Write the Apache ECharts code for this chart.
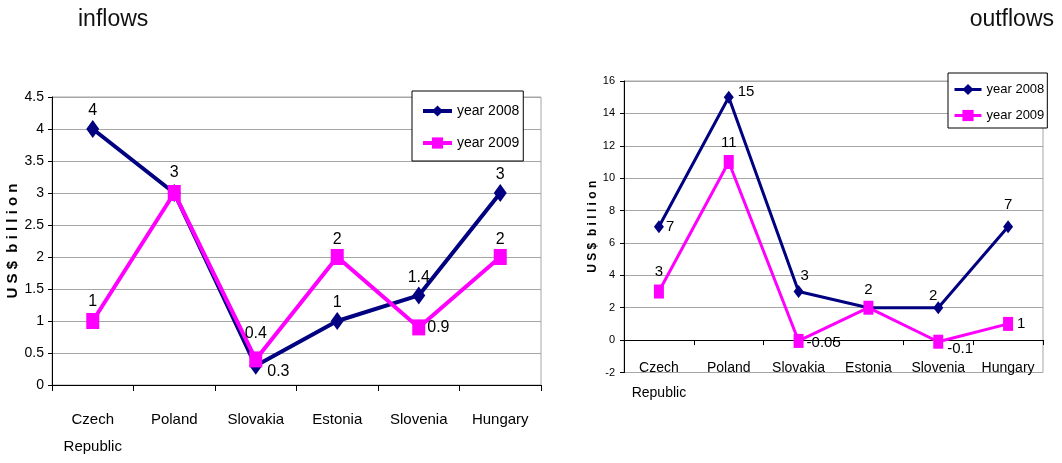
<!DOCTYPE html>
<html><head><meta charset="utf-8">
<script src="https://cdn.jsdelivr.net/npm/echarts@6/dist/echarts.min.js"></script>
<style>html,body{margin:0;padding:0;background:#fff}#c{width:1062px;height:463px}</style>
</head><body><div id="c"></div>
<script>
// ---- data ----
const categories = ['Czech\nRepublic', 'Poland', 'Slovakia', 'Estonia', 'Slovenia', 'Hungary'];
const seriesNames = ['year 2008', 'year 2009'];
const inflow2008 = [4, 3, 0.3, 1, 1.4, 3];
const inflow2009 = [1, 3, 0.4, 2, 0.9, 2];
const outflow2008 = [7, 15, 3, 2, 2, 7];
const outflow2009 = [3, 11, -0.05, 2, -0.1, 1];
const titles = ['inflows', 'outflows'];
const yName = 'U S $  b i l l i o n';

// ---- styling ----
const F = '"Liberation Sans",Arial,sans-serif';
const NAVY = '#000080', MAG = '#ff00ff', GRID = '#a6a6a6';

// label placement per point (style only)
const lblIn08 = [
  {position: 'top', distance: 1}, {show: false}, {position: 'right', distance: 5, offset: [0, 6]},
  {position: 'top', distance: 1}, {position: 'top', distance: 1}, {position: 'top', distance: 1}
];
const lblIn09 = [
  {position: 'top', distance: 3}, {position: 'top', distance: 4}, {position: 'top', distance: 10},
  {position: 'top', distance: 1}, {position: 'right', distance: 2}, {position: 'top', distance: 1}
];
const lblOut08 = [
  {position: 'right', distance: 2}, {position: 'right', distance: 4, offset: [0, -5]}, {position: 'top', distance: 2, offset: [6, 0]},
  {position: 'top', distance: 4}, {position: 'top', distance: -2, offset: [-5, 0]}, {position: 'top', distance: 8}
];
const lblOut09 = [
  {position: 'top', distance: 5}, {position: 'top', distance: 5}, {position: 'right', distance: 3, offset: [0, 2]},
  {show: false}, {position: 'right', distance: 4, offset: [0, 7]}, {position: 'right', distance: 4}
];

function mk(values, lbls) {
  return values.map((v, i) => ({value: v, label: Object.assign({show: true}, lbls[i])}));
}

const labelBase = (size) => ({show: true, color: '#000', fontFamily: F, fontSize: size});

const chart = echarts.init(document.getElementById('c'), null, {renderer: 'canvas'});
chart.setOption({
  animation: false,
  backgroundColor: '#fff',
  title: [
    {text: titles[0], left: 73, top: 3, textStyle: {fontFamily: F, fontSize: 23, fontWeight: 'normal', color: '#111'}},
    {text: titles[1], right: 3, top: 3, textStyle: {fontFamily: F, fontSize: 23, fontWeight: 'normal', color: '#111'}}
  ],
  legend: [
    {
      data: seriesNames, orient: 'vertical', left: 412, top: 91,
      padding: [13, 4, 11, 9], itemGap: 18, itemWidth: 29, itemHeight: 14,
      borderColor: '#000', borderWidth: 1, backgroundColor: '#fff',
      textStyle: {fontFamily: F, fontSize: 14, color: '#000'},
      lineStyle: {width: 4}
    },
    {
      data: seriesNames, orient: 'vertical', left: 948, top: 73,
      padding: [10, 3, 6, 5], itemGap: 13, itemWidth: 27, itemHeight: 14,
      borderColor: '#000', borderWidth: 1, backgroundColor: '#fff',
      textStyle: {fontFamily: F, fontSize: 13, color: '#000'},
      lineStyle: {width: 3}
    }
  ],
  grid: [
    {left: 52, right: 1062 - 541, top: 97, bottom: 463 - 385, show: true, borderColor: GRID, borderWidth: 1, outerBoundsMode: 'none', containLabel: false},
    {left: 624, right: 1062 - 1043, top: 81, bottom: 463 - 372.5, show: true, borderColor: GRID, borderWidth: 1, outerBoundsMode: 'none', containLabel: false}
  ],
  xAxis: [
    {
      type: 'category', gridIndex: 0, data: categories, boundaryGap: true,
      axisLine: {lineStyle: {color: '#000', width: 1}},
      axisTick: {show: true, length: 6, lineStyle: {color: '#000'}},
      axisLabel: {fontFamily: F, fontSize: 15, color: '#000', margin: 21, lineHeight: 27, interval: 0}
    },
    {
      type: 'category', gridIndex: 1, data: categories, boundaryGap: true,
      axisLine: {onZero: true, lineStyle: {color: '#000', width: 1}},
      axisTick: {show: true, length: 5, lineStyle: {color: '#000'}},
      axisLabel: {fontFamily: F, fontSize: 14, color: '#000', margin: -17, lineHeight: 25, interval: 0}
    }
  ],
  yAxis: [
    {
      type: 'value', gridIndex: 0, min: 0, max: 4.5, interval: 0.5,
      name: yName, nameLocation: 'middle', nameGap: 26,
      nameTextStyle: {fontFamily: F, fontSize: 15, fontWeight: 'bold', color: '#000'},
      axisLine: {show: true, lineStyle: {color: '#000'}},
      axisTick: {show: true, length: 4, lineStyle: {color: '#000'}},
      axisLabel: {fontFamily: F, fontSize: 14, color: '#000', margin: 8},
      splitLine: {lineStyle: {color: GRID}}
    },
    {
      type: 'value', gridIndex: 1, min: -2, max: 16, interval: 2,
      name: yName, nameLocation: 'middle', nameGap: 23,
      nameTextStyle: {fontFamily: F, fontSize: 12, fontWeight: 'bold', color: '#000'},
      axisLine: {show: true, lineStyle: {color: '#000'}},
      axisTick: {show: true, length: 4, lineStyle: {color: '#000'}},
      axisLabel: {fontFamily: F, fontSize: 11, color: '#000', margin: 9},
      splitLine: {lineStyle: {color: GRID}}
    }
  ],
  series: [
    {
      name: seriesNames[0], type: 'line', xAxisIndex: 0, yAxisIndex: 0,
      data: mk(inflow2008, lblIn08), color: NAVY,
      lineStyle: {width: 4, color: NAVY}, itemStyle: {color: NAVY},
      symbol: 'diamond', symbolSize: [13, 18], label: labelBase(16)
    },
    {
      name: seriesNames[1], type: 'line', xAxisIndex: 0, yAxisIndex: 0,
      data: mk(inflow2009, lblIn09), color: MAG,
      lineStyle: {width: 4, color: MAG}, itemStyle: {color: MAG},
      symbol: 'rect', symbolSize: [13, 16], label: labelBase(16)
    },
    {
      name: seriesNames[0], type: 'line', xAxisIndex: 1, yAxisIndex: 1,
      data: mk(outflow2008, lblOut08), color: NAVY,
      lineStyle: {width: 3, color: NAVY}, itemStyle: {color: NAVY},
      symbol: 'diamond', symbolSize: [10, 13], label: labelBase(15)
    },
    {
      name: seriesNames[1], type: 'line', xAxisIndex: 1, yAxisIndex: 1,
      data: mk(outflow2009, lblOut09), color: MAG,
      lineStyle: {width: 3, color: MAG}, itemStyle: {color: MAG},
      symbol: 'rect', symbolSize: [10, 14], label: labelBase(15)
    }
  ]
});
</script>
</body></html>
